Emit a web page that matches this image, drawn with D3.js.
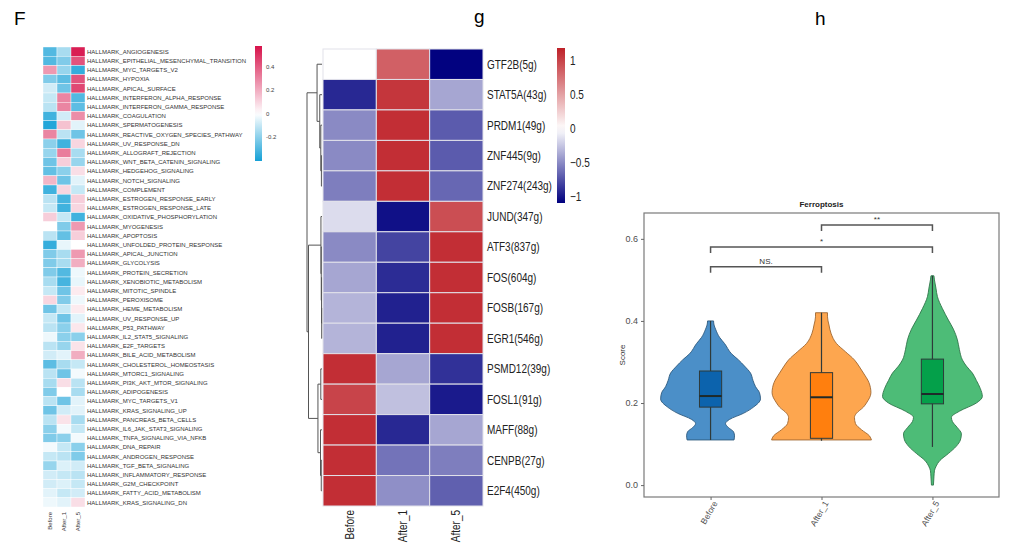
<!DOCTYPE html>
<html>
<head>
<meta charset="utf-8">
<script src="https://cdn.jsdelivr.net/npm/d3@7"></script>
<style>
body { margin: 0; background: #fff; }
svg { display: block; font-family: "Liberation Sans", Arial, sans-serif; }
</style>
</head>
<body>
<svg id="fig" width="1024" height="543"></svg>
<script>
// ---------- panel F : hallmark pathway heatmap ----------
var hallmarkSets = [
  "HALLMARK_ANGIOGENESIS", "HALLMARK_EPITHELIAL_MESENCHYMAL_TRANSITION", "HALLMARK_MYC_TARGETS_V2",
  "HALLMARK_HYPOXIA", "HALLMARK_APICAL_SURFACE", "HALLMARK_INTERFERON_ALPHA_RESPONSE",
  "HALLMARK_INTERFERON_GAMMA_RESPONSE", "HALLMARK_COAGULATION", "HALLMARK_SPERMATOGENESIS",
  "HALLMARK_REACTIVE_OXYGEN_SPECIES_PATHWAY", "HALLMARK_UV_RESPONSE_DN", "HALLMARK_ALLOGRAFT_REJECTION",
  "HALLMARK_WNT_BETA_CATENIN_SIGNALING", "HALLMARK_HEDGEHOG_SIGNALING", "HALLMARK_NOTCH_SIGNALING",
  "HALLMARK_COMPLEMENT", "HALLMARK_ESTROGEN_RESPONSE_EARLY", "HALLMARK_ESTROGEN_RESPONSE_LATE",
  "HALLMARK_OXIDATIVE_PHOSPHORYLATION", "HALLMARK_MYOGENESIS", "HALLMARK_APOPTOSIS",
  "HALLMARK_UNFOLDED_PROTEIN_RESPONSE", "HALLMARK_APICAL_JUNCTION", "HALLMARK_GLYCOLYSIS",
  "HALLMARK_PROTEIN_SECRETION", "HALLMARK_XENOBIOTIC_METABOLISM", "HALLMARK_MITOTIC_SPINDLE",
  "HALLMARK_PEROXISOME", "HALLMARK_HEME_METABOLISM", "HALLMARK_UV_RESPONSE_UP",
  "HALLMARK_P53_PATHWAY", "HALLMARK_IL2_STAT5_SIGNALING", "HALLMARK_E2F_TARGETS",
  "HALLMARK_BILE_ACID_METABOLISM", "HALLMARK_CHOLESTEROL_HOMEOSTASIS", "HALLMARK_MTORC1_SIGNALING",
  "HALLMARK_PI3K_AKT_MTOR_SIGNALING", "HALLMARK_ADIPOGENESIS", "HALLMARK_MYC_TARGETS_V1",
  "HALLMARK_KRAS_SIGNALING_UP", "HALLMARK_PANCREAS_BETA_CELLS", "HALLMARK_IL6_JAK_STAT3_SIGNALING",
  "HALLMARK_TNFA_SIGNALING_VIA_NFKB", "HALLMARK_DNA_REPAIR", "HALLMARK_ANDROGEN_RESPONSE",
  "HALLMARK_TGF_BETA_SIGNALING", "HALLMARK_INFLAMMATORY_RESPONSE", "HALLMARK_G2M_CHECKPOINT",
  "HALLMARK_FATTY_ACID_METABOLISM", "HALLMARK_KRAS_SIGNALING_DN"
];
var samples = ["Before", "After_1", "After_5"];
var fBefore = [-0.3, -0.3, 0.25, -0.22, -0.08, -0.1, -0.12, -0.33, -0.38, 0.3,
  -0.2, -0.18, -0.25, -0.27, 0.18, -0.33, -0.12, -0.1, 0.12, 0.0,
  -0.12, -0.35, -0.22, -0.22, -0.22, -0.15, -0.1, 0.1, -0.25, -0.1,
  -0.12, -0.03, -0.12, -0.08, -0.28, -0.12, -0.15, -0.22, -0.12, -0.25,
  -0.12, -0.2, -0.22, -0.02, -0.1, -0.18, -0.08, -0.08, -0.05, -0.03];
var fAfter1 = [-0.15, -0.22, -0.18, -0.28, -0.25, 0.3, 0.3, -0.08, 0.15, -0.12,
  -0.33, 0.32, 0.12, -0.2, -0.25, 0.1, -0.32, -0.33, -0.1, -0.22,
  -0.27, -0.04, -0.15, -0.15, -0.3, -0.32, -0.25, -0.22, -0.1, -0.25,
  -0.2, -0.2, -0.18, -0.05, -0.15, -0.25, 0.08, 0.0, -0.25, -0.08,
  0.07, -0.02, -0.2, -0.1, -0.12, -0.06, -0.1, -0.06, -0.1, -0.05];
var fAfter5 = [0.55, 0.42, -0.35, 0.42, 0.45, -0.3, -0.28, 0.28, -0.05, -0.25,
  0.1, -0.15, -0.18, 0.08, -0.05, -0.1, 0.12, 0.1, -0.33, 0.25,
  0.12, 0.0, 0.25, 0.2, -0.03, -0.04, 0.05, -0.03, 0.05, -0.05,
  0.06, -0.2, 0.07, 0.2, -0.1, -0.02, -0.12, -0.15, -0.05, -0.05,
  -0.15, -0.1, -0.02, -0.2, -0.22, -0.08, -0.12, -0.1, -0.08, 0.08];
var fLegendTicks = [0.4, 0.2, 0, -0.2];
var fRange = [-0.405, 0.58];

// ---------- panel g : regulon heatmap ----------
var tfNames = ["GTF2B(5g)", "STAT5A(43g)", "PRDM1(49g)", "ZNF445(9g)", "ZNF274(243g)",
  "JUND(347g)", "ATF3(837g)", "FOS(604g)", "FOSB(167g)", "EGR1(546g)",
  "PSMD12(39g)", "FOSL1(91g)", "MAFF(88g)", "CENPB(27g)", "E2F4(450g)"];
var gBefore = [0.0, -0.92, -0.5, -0.5, -0.55, -0.15, -0.5, -0.38, -0.32, -0.32, 1.12, 1.0, 1.12, 1.12, 1.12];
var gAfter1 = [0.85, 1.08, 1.12, 1.12, 1.12, -1.02, -0.8, -0.9, -0.95, -0.95, -0.38, -0.27, -0.92, -0.6, -0.48];
var gAfter5 = [-1.08, -0.38, -0.7, -0.7, -0.65, 0.95, 1.12, 1.12, 1.12, 1.12, -0.88, -0.98, -0.38, -0.55, -0.68];
var gLegendTicks = [1, 0.5, 0, -0.5, -1];
var gRange = [-1.09, 1.19];
// hclust style merges: negative = leaf (1-based), positive = earlier merge, then height
var tfMerges = [
  [-4, -5, 0.04], [-3, 1, 0.08], [-2, 2, 0.15], [-1, 3, 0.33],
  [-9, -10, 0.02], [-8, 5, 0.03], [-7, 6, 0.05], [-6, 7, 0.07],
  [-14, -15, 0.05], [-13, 9, 0.1], [-11, -12, 0.08], [11, 10, 0.27],
  [8, 12, 0.9], [4, 13, 1.0]
];

// ---------- panel h : ferroptosis score violins ----------
var groups = ["Before", "After_1", "After_5"];
var beforeScore = [0.11, 0.12, 0.13, 0.14, 0.15, 0.16, 0.175, 0.19, 0.21, 0.225, 0.24, 0.255, 0.273, 0.29, 0.305, 0.32, 0.345, 0.36, 0.38, 0.39, 0.40];
var beforeDens = [0.47, 0.48, 0.46, 0.36, 0.3, 0.38, 0.66, 0.86, 1.0, 0.98, 0.9, 0.85, 0.8, 0.68, 0.56, 0.42, 0.28, 0.18, 0.1, 0.07, 0.06];
var after1Score = [0.11, 0.12, 0.135, 0.15, 0.165, 0.175, 0.19, 0.2, 0.225, 0.25, 0.273, 0.29, 0.305, 0.325, 0.345, 0.37, 0.39, 0.41, 0.42];
var after1Dens = [1.0, 0.96, 0.8, 0.68, 0.66, 0.7, 0.84, 0.9, 0.99, 0.95, 0.84, 0.75, 0.66, 0.48, 0.3, 0.19, 0.15, 0.12, 0.12];
var after5Score = [0.0, 0.02, 0.035, 0.045, 0.06, 0.077, 0.095, 0.11, 0.125, 0.14, 0.155, 0.165, 0.18, 0.2, 0.216, 0.235, 0.255, 0.273, 0.29, 0.305, 0.33, 0.354, 0.38, 0.402, 0.43, 0.459, 0.48, 0.5, 0.51];
var after5Dens = [0.02, 0.03, 0.04, 0.07, 0.15, 0.32, 0.48, 0.56, 0.58, 0.5, 0.4, 0.38, 0.54, 0.88, 1.0, 0.96, 0.88, 0.8, 0.68, 0.6, 0.54, 0.5, 0.42, 0.32, 0.2, 0.1, 0.07, 0.04, 0.03];
var boxLow = [0.11, 0.108, 0.093];
var boxQ1 = [0.19, 0.114, 0.198];
var boxMedian = [0.217, 0.214, 0.222];
var boxQ3 = [0.278, 0.274, 0.307];
var boxHigh = [0.40, 0.42, 0.51];
var sigPairs = [["Before", "After_1"], ["Before", "After_5"], ["After_1", "After_5"]];
var sigLabels = ["NS.", "*", "**"];
var sigLevels = [0.532, 0.58, 0.634];
var scoreTicks = [0, 0.2, 0.4, 0.6];

var violinFill = ["#4b8fc8", "#fda64f", "#4dbc77"];
var boxFill = ["#0c63ad", "#ff7f0e", "#04a04a"];

var svg = d3.select("#fig");

// panel letters
svg.append("text").attr("x", 14).attr("y", 25).text("F").style("font-size", "19px");
svg.append("text").attr("x", 474).attr("y", 23).text("g").style("font-size", "19px");
svg.append("text").attr("x", 815).attr("y", 25).text("h").style("font-size", "19px");

// ===== panel F =====
var fRow = d3.scaleBand().domain(hallmarkSets).range([47, 507]);
var fCol = d3.scaleBand().domain(samples).range([43, 85]);
var fColor = d3.scaleLinear().domain([fRange[0], 0, fRange[1]]).range(["#15a0d6", "#ffffff", "#d7134b"]);
var fCells = [];
hallmarkSets.forEach(function (h, i) {
  [fBefore, fAfter1, fAfter5].forEach(function (arr, j) {
    fCells.push({ row: h, col: samples[j], v: arr[i] });
  });
});
var gF = svg.append("g");
gF.selectAll("rect").data(fCells).enter().append("rect")
  .attr("x", function (d) { return fCol(d.col); })
  .attr("y", function (d) { return fRow(d.row); })
  .attr("width", fCol.bandwidth())
  .attr("height", fRow.bandwidth())
  .attr("fill", function (d) { return fColor(d.v); })
  .attr("stroke", "#ffffff").attr("stroke-width", 0.4);
gF.selectAll("text.row").data(hallmarkSets).enter().append("text")
  .attr("class", "row")
  .attr("x", 87)
  .attr("y", function (d) { return fRow(d) + fRow.bandwidth() / 2; })
  .attr("dy", "0.35em")
  .style("font-size", "6px").style("fill", "#333")
  .text(function (d) { return d; });
gF.selectAll("text.col").data(samples).enter().append("text")
  .attr("class", "col")
  .attr("transform", function (d) { return "translate(" + (fCol(d) + fCol.bandwidth() / 2 + 2) + ",512) rotate(-90)"; })
  .style("text-anchor", "end").style("font-size", "6px").style("fill", "#333")
  .text(function (d) { return d; });

// F legend
var fLeg = d3.scaleLinear().domain(fRange).range([161, 46]);
var defs = svg.append("defs");
var gradF = defs.append("linearGradient").attr("id", "gradF").attr("x1", 0).attr("y1", 0).attr("x2", 0).attr("y2", 1);
d3.range(0, 1.0001, 0.05).forEach(function (t) {
  var v = fRange[1] - t * (fRange[1] - fRange[0]);
  gradF.append("stop").attr("offset", t).attr("stop-color", fColor(v));
});
svg.append("rect").attr("x", 255).attr("y", 46).attr("width", 7).attr("height", 115).attr("fill", "url(#gradF)");
svg.selectAll("text.fleg").data(fLegendTicks).enter().append("text")
  .attr("class", "fleg")
  .attr("x", 266).attr("y", function (d) { return fLeg(d); }).attr("dy", "0.35em")
  .style("font-size", "6px").style("fill", "#444")
  .text(function (d) { return d; });

// ===== panel g =====
var gRow = d3.scaleBand().domain(tfNames).range([49, 506]);
var gCol = d3.scaleBand().domain(samples).range([323, 483]);
var gColor = d3.scaleLinear().domain([gRange[0], 0, gRange[1]]).range(["#00007f", "#ffffff", "#be2128"]);
var gCells = [];
tfNames.forEach(function (t, i) {
  [gBefore, gAfter1, gAfter5].forEach(function (arr, j) {
    gCells.push({ row: t, col: samples[j], v: arr[i] });
  });
});
var gG = svg.append("g");
gG.selectAll("rect").data(gCells).enter().append("rect")
  .attr("x", function (d) { return gCol(d.col); })
  .attr("y", function (d) { return gRow(d.row); })
  .attr("width", gCol.bandwidth())
  .attr("height", gRow.bandwidth())
  .attr("fill", function (d) { return gColor(d.v); })
  .attr("stroke", "#e2e2ea").attr("stroke-width", 1);
gG.selectAll("text.row").data(tfNames).enter().append("text")
  .attr("class", "row")
  .attr("transform", function (d) { return "translate(487," + (gRow(d) + gRow.bandwidth() / 2) + ") scale(0.8,1)"; })
  .attr("dy", "0.35em")
  .style("font-size", "12.5px").style("fill", "#222")
  .text(function (d) { return d; });
gG.selectAll("text.col").data(samples).enter().append("text")
  .attr("class", "col")
  .attr("transform", function (d) { return "translate(" + (gCol(d) + gCol.bandwidth() / 2 + 4) + ",510) rotate(-90) scale(0.8,1)"; })
  .style("text-anchor", "end").style("font-size", "12.5px").style("fill", "#222")
  .text(function (d) { return d; });

// dendrogram
var dendX = d3.scaleLinear().domain([0, 1]).range([322, 307]);
var dNodes = [];
function nodePos(id) {
  if (id < 0) return { x: dendX(0), y: gRow(tfNames[-id - 1]) + gRow.bandwidth() / 2 };
  return dNodes[id - 1];
}
var dend = svg.append("g").attr("fill", "none").attr("stroke", "#555").attr("stroke-width", 1);
tfMerges.forEach(function (m) {
  var a = nodePos(m[0]), b = nodePos(m[1]), x = dendX(m[2]);
  dend.append("path").attr("d", "M" + a.x + "," + a.y + "H" + x + "V" + b.y + "H" + b.x);
  dNodes.push({ x: x, y: (a.y + b.y) / 2 });
});

// g legend
var gLeg = d3.scaleLinear().domain(gRange).range([203, 48]);
var gradG = defs.append("linearGradient").attr("id", "gradG").attr("x1", 0).attr("y1", 0).attr("x2", 0).attr("y2", 1);
d3.range(0, 1.0001, 0.05).forEach(function (t) {
  var v = gRange[1] - t * (gRange[1] - gRange[0]);
  gradG.append("stop").attr("offset", t).attr("stop-color", gColor(v));
});
svg.append("rect").attr("x", 557).attr("y", 48).attr("width", 8).attr("height", 155).attr("fill", "url(#gradG)");
svg.selectAll("text.gleg").data(gLegendTicks).enter().append("text")
  .attr("class", "gleg")
  .attr("transform", function (d) { return "translate(570," + gLeg(d) + ") scale(0.8,1)"; })
  .attr("dy", "0.35em")
  .style("font-size", "12.5px").style("fill", "#222")
  .text(function (d) { return d === -0.5 ? "\u22120.5" : (d === -1 ? "\u22121" : d); });

// ===== panel h =====
var hx = d3.scalePoint().domain(groups).range([644, 999]).padding(0.6);
var hy = d3.scaleLinear().domain([-0.029, 0.663]).range([497, 213]);
var halfW = hx.step() * 0.45;
var boxW = hx.step() * 0.2;
var violins = [
  { g: "Before", s: beforeScore, d: beforeDens },
  { g: "After_1", s: after1Score, d: after1Dens },
  { g: "After_5", s: after5Score, d: after5Dens }
];
var gH = svg.append("g");
violins.forEach(function (v, i) {
  var cx = hx(v.g);
  var pts = v.s.map(function (s, k) { return { s: s, d: v.d[k] }; });
  var area = d3.area().curve(d3.curveMonotoneY)
    .y(function (p) { return hy(p.s); })
    .x0(function (p) { return cx - p.d * halfW; })
    .x1(function (p) { return cx + p.d * halfW; });
  gH.append("path").attr("d", area(pts))
    .attr("fill", violinFill[i])
    .attr("stroke", d3.color(violinFill[i]).darker(1.3))
    .attr("stroke-width", 0.9);
  // whiskers
  gH.append("line").attr("x1", cx).attr("x2", cx).attr("y1", hy(boxLow[i])).attr("y2", hy(boxHigh[i]))
    .attr("stroke", "#2f3a3a").attr("stroke-width", 1.2);
  gH.append("rect").attr("x", cx - boxW / 2).attr("width", boxW)
    .attr("y", hy(boxQ3[i])).attr("height", hy(boxQ1[i]) - hy(boxQ3[i]))
    .attr("fill", boxFill[i]).attr("stroke", "#2f3a3a").attr("stroke-width", 1);
  gH.append("line").attr("x1", cx - boxW / 2).attr("x2", cx + boxW / 2)
    .attr("y1", hy(boxMedian[i])).attr("y2", hy(boxMedian[i]))
    .attr("stroke", "#1f2a2a").attr("stroke-width", 2);
});

// significance brackets
sigPairs.forEach(function (p, i) {
  var y = hy(sigLevels[i]);
  gH.append("path")
    .attr("d", "M" + hx(p[0]) + "," + (y + 6) + "V" + y + "H" + hx(p[1]) + "V" + (y + 6))
    .attr("fill", "none").attr("stroke", "#555").attr("stroke-width", 1.5);
  gH.append("text").attr("x", (hx(p[0]) + hx(p[1])) / 2).attr("y", y - 3)
    .style("text-anchor", "middle").style("font-size", "8px").style("fill", "#333")
    .text(sigLabels[i]);
});

// panel border and axes
gH.append("rect").attr("x", 644).attr("y", 213).attr("width", 355).attr("height", 284)
  .attr("fill", "none").attr("stroke", "#7a7a7a").attr("stroke-width", 1.2);
var yAxis = gH.append("g").attr("transform", "translate(644,0)")
  .call(d3.axisLeft(hy).tickValues(scoreTicks).tickFormat(d3.format(".1f")).tickSize(3));
yAxis.select(".domain").remove();
yAxis.selectAll("line").attr("stroke", "#666");
yAxis.selectAll("text").style("font-size", "9px").style("fill", "#4d4d4d").style("font-family", "Liberation Sans, Arial, sans-serif");
var xAxis = gH.append("g").attr("transform", "translate(0,497)")
  .call(d3.axisBottom(hx).tickSize(3));
xAxis.select(".domain").remove();
xAxis.selectAll("line").attr("stroke", "#666");
xAxis.selectAll("text")
  .attr("x", -2).attr("y", 6).attr("dy", "0.35em")
  .attr("transform", "rotate(-60)")
  .style("text-anchor", "end").style("font-size", "8.5px").style("fill", "#4d4d4d")
  .style("font-family", "Liberation Sans, Arial, sans-serif");

gH.append("text").attr("x", 821.5).attr("y", 207).style("text-anchor", "middle")
  .style("font-size", "8px").style("font-weight", "bold").style("fill", "#222").text("Ferroptosis");
gH.append("text").attr("transform", "translate(625,355) rotate(-90)").style("text-anchor", "middle")
  .style("font-size", "8px").style("fill", "#333").text("Score");
</script>
</body>
</html>
